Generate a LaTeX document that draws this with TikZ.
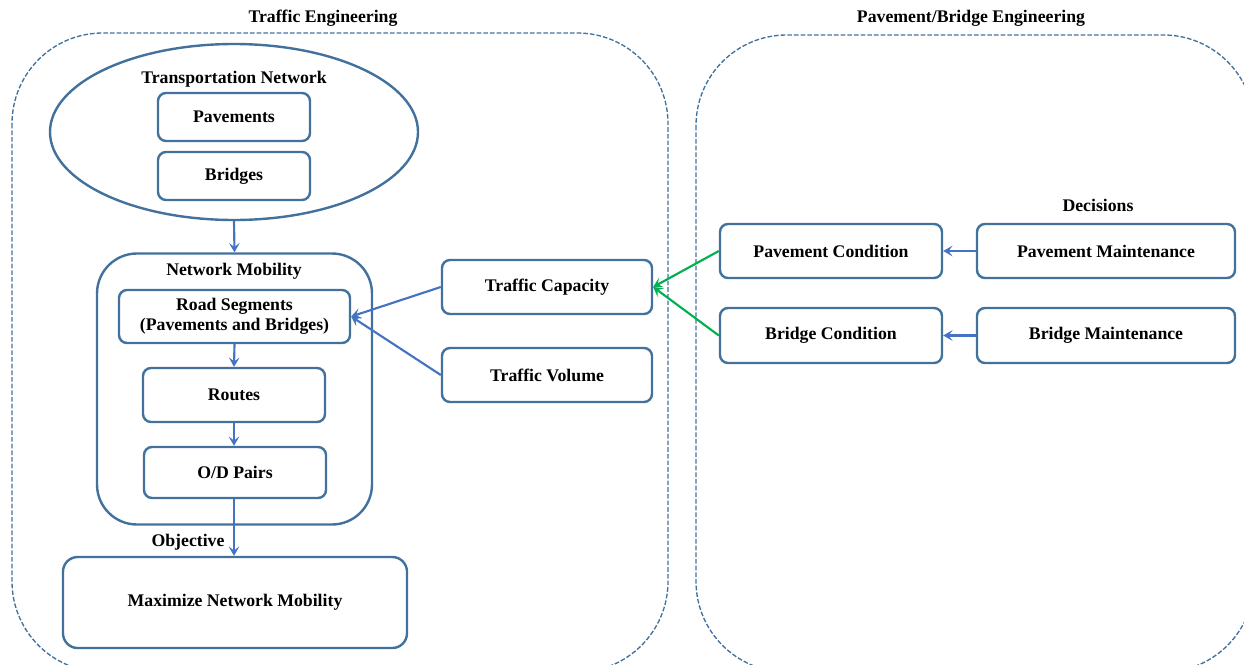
\documentclass[tikz,border=0pt]{standalone}
\usepackage{fontspec}
\setmainfont{Liberation Serif}
\usetikzlibrary{shapes.geometric,arrows.meta}
\definecolor{bordc}{HTML}{41719C}
\definecolor{arrc}{HTML}{4472C4}
\definecolor{grnc}{HTML}{00B050}
\begin{document}
\begin{tikzpicture}[x=0.75pt,y=-0.75pt,
  every node/.style={font=\fontsize{13.3}{16}\selectfont\bfseries, text=black},
  sz/.style 2 args={minimum width=#1*0.75pt, minimum height=#2*0.75pt},
  box/.style={draw=bordc, line width=1.8pt, rounded corners=6pt, inner sep=0pt, align=center},
  lbl/.style={inner sep=0pt},
  cont/.style={draw=bordc, line width=1pt, dash pattern=on 3.5pt off 1.5pt, rounded corners=68pt},
  arr/.style={draw=arrc, line width=1.6pt, -{Stealth[length=7pt,width=8pt,inset=3pt]}},
  garr/.style={draw=grnc, line width=1.6pt, -{Stealth[length=7pt,width=8pt,inset=3pt]}}
]
\useasboundingbox (0,0) rectangle (1244,664);
\begin{scope}
\clip (0,0) rectangle (1244,664);
\draw[cont] (12,33) rectangle (668,672);
\draw[cont] (696,35) rectangle (1254,672);
\end{scope}

\node[lbl] (t1) at (323,18) {Traffic Engineering};
\node[lbl] (t2) at (971,18) {Pavement/Bridge Engineering};

\node[ellipse, draw=bordc, line width=1.8pt, inner sep=0pt, sz={368}{176}] (tn) at (234,132) {};
\node[lbl] (tnl) at (234,79) {Transportation Network};
\node[box, sz={152}{48}] (pav) at (234,117) {\raisebox{-1pt}{Pavements}};
\node[box, sz={152}{48}] (bri) at (234,176) {\raisebox{-1pt}{Bridges}};

\node[box, rounded corners=30pt, sz={275}{271}] (nm) at (234.5,389) {};
\node[lbl] (nml) at (234,271) {Network Mobility};
\node[box, sz={231}{53}] (road) at (234.5,316.5) {Road Segments\\[-1pt](Pavements and Bridges)};
\node[box, sz={182}{54}] (routes) at (234,395) {\raisebox{-1pt}{Routes}};
\node[box, sz={182}{51}] (od) at (235,472.5) {\raisebox{-1pt}{O/D Pairs}};
\node[lbl] (objl) at (188,542) {Objective};
\node[box, rounded corners=11pt, sz={344}{91}] (max) at (235,602.5) {\raisebox{-1pt}{Maximize Network Mobility}};

\node[box, sz={210}{54}] (tc) at (547,287) {\raisebox{-1pt}{Traffic Capacity}};
\node[box, sz={210}{54}] (tv) at (547,375) {Traffic Volume};

\node[box, sz={222}{54}] (pc) at (831,251) {Pavement Condition};
\node[box, sz={222}{55}] (bc) at (831,335.5) {\raisebox{-1pt}{Bridge Condition}};
\node[box, sz={258}{54}] (pm) at (1106,251) {Pavement Maintenance};
\node[box, sz={258}{55}] (bm) at (1106,335.5) {\raisebox{-1pt}{Bridge Maintenance}};
\node[lbl] (decl) at (1098,205) {Decisions};

\draw[arr] (tn.south) -- (nm.north);
\draw[arr] (road.south) -- (routes.north);
\draw[arr] (routes.south) -- (od.north -| routes.south);
\draw[arr] (od.south -| routes.south) -- (max.north -| routes.south);
\draw[arr] (tc.west) -- (road.east);
\draw[arr] (tv.west) -- (road.east);
\draw[garr] (pc.west) -- (tc.east);
\draw[garr] (bc.west) -- (tc.east);
\draw[arr] (pm.west) -- (pc.east);
\draw[arr] (bm.west) -- (bc.east);
\end{tikzpicture}
\end{document}
